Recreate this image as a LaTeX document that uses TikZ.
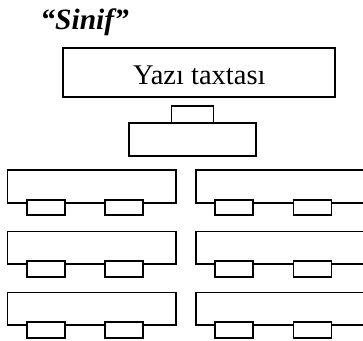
\documentclass[tikz,border=0pt]{standalone}
\usepackage{fontspec}
\setmainfont{Liberation Serif}
\begin{document}
\begin{tikzpicture}[x=1pt, y=-1pt, line width=1.9pt,
  plain/.style={draw, inner sep=0pt, outer sep=0pt},
  desk/.style={plain, minimum width=38pt, minimum height=15.4pt}]
\useasboundingbox (0,0) rectangle (363,340);
\clip (0,0) rectangle (363,340);

% title
\node[anchor=base west, inner sep=0pt,
      font=\fontsize{29.5}{31}\selectfont\bfseries\itshape] (title) at (39.5,29.3) {“Sinif”};

% board and teacher's table
\node[plain, minimum width=272pt, minimum height=49pt, text height=24pt, text depth=0pt,
      font=\fontsize{28.5}{30}\selectfont] (board) at (199.3,72.5) {Yazı taxtası};
\node[plain, minimum width=42pt, minimum height=16.5pt] (chair) at (192.5,114.4) {};
\node[plain, minimum width=127pt, minimum height=33pt] (table) at (192.4,139.6) {};

% rows of double desks
\foreach \r/\dy in {1/0,2/61.4,3/122.4}{
  \foreach \c/\dx in {l/0,r/188.3}{
    \node[desk] (a\r\c) at (45.65+\dx,207.5+\dy) {};
    \node[desk] (b\r\c) at (124.15+\dx,207.5+\dy) {};
    \coordinate (tl\r\c) at (7.5+\dx,170.1+\dy);
    \coordinate (br\r\c) at (175.9+\dx,202.7+\dy);
    \draw ([yshift=4.8pt]a\r\c.west) -| (tl\r\c) -| (br\r\c) -- ([yshift=4.8pt]b\r\c.east);
    \draw ([yshift=4.8pt]a\r\c.east) -- ([yshift=4.8pt]b\r\c.west);
  }
}
\end{tikzpicture}
\end{document}
